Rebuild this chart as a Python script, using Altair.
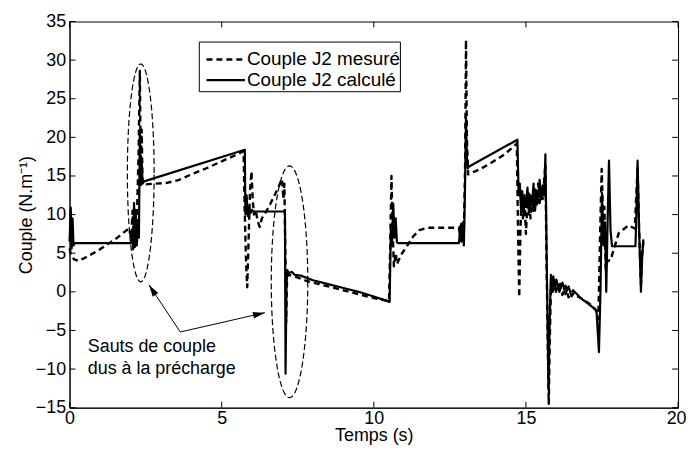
import altair as alt
import pandas as pd
import numpy as np

# ---------------- data ----------------
calc_t = [0.00, 0.04, 0.07, 0.10, 0.13, 0.17, 2.02, 2.06, 2.09, 2.12, 2.15, 2.18, 2.21, 2.25, 2.28,
          2.31, 2.34, 2.37, 2.40, 2.45, 5.76, 5.78, 5.82, 5.86, 5.90, 5.95, 6.00, 6.05, 7.05, 7.08,
          7.10, 7.13, 7.16, 7.20, 7.30, 7.40, 7.60, 8.00, 8.50, 9.00, 9.50, 10.00, 10.52, 10.56,
          10.60, 10.64, 10.68, 10.72, 10.76, 10.80, 12.80, 12.84, 12.88, 12.92, 12.96, 13.00,
          13.03, 13.06, 13.09, 13.12, 14.72, 14.76, 14.80, 14.84, 14.88, 14.92, 14.96, 15.00,
          15.05, 15.10, 15.15, 15.20, 15.25, 15.30, 15.35, 15.40, 15.45, 15.50, 15.55, 15.60,
          15.64, 15.68, 15.74, 15.78, 15.82, 15.86, 15.90, 15.95, 16.00, 16.10, 16.20, 16.30,
          16.40, 16.50, 16.60, 16.80, 17.00, 17.20, 17.32, 17.40, 17.45, 17.50, 17.55, 17.60,
          17.64, 17.69, 17.73, 17.78, 17.83, 18.60, 18.63, 18.67, 18.72, 18.78, 18.82, 18.86]
calc_v = [6.5, 10.9, 5.6, 9.5, 6.0, 6.3, 6.3, 8.0, 5.5, 11.5, 5.8, 10.0, 6.0, 9.0, 7.0,
          20.6, 13.8, 17.0, 14.0, 14.3, 18.4, 10.0, 12.5, 9.8, 11.0, 10.2, 10.6, 10.4, 10.4, 10.6,
          -10.6, 1.0, 2.8, 2.4, 2.6, 2.2, 2.1, 1.5, 1.0, 0.5, 0.0, -0.6, -1.3, 8.0,
          6.0, 11.4, 7.0, 9.5, 6.4, 6.3, 6.3, 8.5, 6.5, 9.0, 6.0, 14.0,
          22.5, 17.5, 16.0, 16.2, 19.7, 12.5, 14.0, 10.5, 13.0, 9.8, 12.2, 11.0,
          13.5, 10.0, 12.5, 11.2, 14.0, 10.5, 13.0, 11.5, 14.5, 12.0, 13.8, 12.5,
          17.8, 5.0, -12.6, -4.0, 2.2, 0.5, 2.0, 0.3, 1.6, 0.0, 1.2, -0.3,
          0.7, -0.6, 0.0, -0.8, -1.4, -2.0, -2.5, -7.8, 0.0, 12.8, 6.0, 9.0,
          0.0, 10.0, 17.0, 8.0, 5.9, 5.9, 10.0, 17.0, 8.0, 0.0, 4.5, 6.8]

mes_t = [0.00, 0.05, 0.15, 0.30, 0.60, 1.00, 1.50, 1.95, 2.03, 2.07, 2.11, 2.15, 2.19, 2.23, 2.27,
         2.31, 2.34, 2.37, 2.40, 2.45, 2.80, 3.20, 3.60, 4.00, 4.50, 5.00, 5.40, 5.72, 5.76, 5.80,
         5.84, 5.88, 5.93, 5.98, 6.02, 6.06, 6.12, 6.18, 6.25, 6.32, 6.40, 6.55, 6.70, 6.85, 6.98,
         7.03, 7.06, 7.10, 7.12, 7.15, 7.20, 7.40, 7.80, 8.20, 8.60, 9.00, 9.50, 10.00, 10.50,
         10.54, 10.58, 10.62, 10.66, 10.72, 10.76, 10.90, 11.10, 11.30, 11.50, 11.75, 12.80,
         12.84, 12.88, 12.92, 12.96, 13.00, 13.03, 13.06, 13.10, 13.15, 13.50, 13.90, 14.30,
         14.70, 14.74, 14.78, 14.82, 14.86, 14.90, 14.95, 15.00, 15.05, 15.10, 15.15, 15.20,
         15.25, 15.30, 15.35, 15.40, 15.45, 15.50, 15.55, 15.60, 15.64, 15.68, 15.75, 15.79,
         15.83, 15.88, 15.93, 16.00, 16.10, 16.20, 16.30, 16.40, 16.55, 16.70, 16.90, 17.10,
         17.30, 17.38, 17.44, 17.49, 17.54, 17.58, 17.62, 17.68, 17.78, 18.05, 18.37, 18.58,
         18.62, 18.67, 18.72, 18.78, 18.82, 18.86]
mes_v = [5.6, 4.8, 4.2, 4.0, 4.6, 5.5, 6.8, 8.2, 7.0, 10.5, 6.0, 11.0, 6.5, 12.0, 18.0,
         28.6, 16.0, 21.0, 14.0, 13.9, 14.0, 14.1, 14.5, 15.2, 16.0, 16.9, 17.6, 18.2, 10.0, 4.0,
         0.6, 6.0, 13.0, 15.6, 12.0, 10.0, 10.6, 9.2, 8.4, 9.5, 10.0, 11.0, 12.2, 13.4, 14.6,
         12.0, 14.0, 3.0, -4.0, 2.0, 2.2, 2.0, 1.4, 1.0, 0.6, 0.2, -0.3, -0.8, -1.2,
         6.0, 15.0, 8.0, 3.3, 5.0, 3.6, 4.8, 6.0, 7.2, 8.0, 8.3, 8.3,
         7.0, 9.0, 6.5, 8.0, 16.0, 32.6, 20.0, 15.2, 15.3, 15.9, 16.8, 17.8,
         19.2, 8.0, -0.7, 8.0, 13.0, 9.5, 12.5, 7.5, 11.5, 13.0, 9.5, 12.0,
         10.5, 13.5, 11.0, 14.0, 11.5, 13.2, 12.0, 14.5, 16.5, 3.0, -14.5, -5.0,
         1.8, 0.0, 1.5, -0.2, 1.3, -0.4, 0.8, -0.7, 0.2, -0.6, -1.0, -1.6,
         -2.3, -3.5, 8.0, 15.9, 9.0, 11.0, 3.0, 4.0, 4.1, 7.6, 8.6, 8.2,
         12.0, 16.0, 8.0, 1.0, 5.0, 6.5]

series_names = ["Couple J2 mesuré", "Couple J2 calculé"]

# annotation ellipses: centre (t, v) and radii (t, v)
ell_cx = [2.34, 7.23]
ell_cy = [15.4, 1.3]
ell_rx = [0.44, 0.60]
ell_ry = [14.1, 15.0]

# arrows: common start, two ends
arrow_t0, arrow_v0 = 3.64, -5.2
arrow_t1 = [2.61, 6.42]
arrow_v1 = [0.9, -2.7]

note_lines = ["Sauts de couple", "dus à la précharge"]
note_t = [0.6, 0.6]
note_v = [-7.8, -10.7]

x_ticks = [0, 5, 10, 15, 20]
y_ticks = [-15, -10, -5, 0, 5, 10, 15, 20, 25, 30, 35]
X_DOM = [0, 20]
Y_DOM = [-15, 35]

# ---------------- layout ----------------
W, H = 613, 389
FONT = "Liberation Sans"
FS = 18
FS_LEG = 19

xs = alt.Scale(domain=X_DOM, nice=False, zero=False)
ys = alt.Scale(domain=Y_DOM, nice=False, zero=False)

AX = alt.Axis(values=x_ticks, ticks=False, grid=False, labelFlush=False, format="d",
              labelFont=FONT, labelFontSize=FS, labelPadding=2, labelColor="black",
              labelOffset={"expr": "datum.value == 20 ? -2 : 0"},
              title="Temps (s)", titleFont=FONT, titleFontSize=FS, titleFontWeight="normal",
              titleColor="black", titleY=33, titleBaseline="alphabetic",
              domainColor="black", domainWidth=1)
AY = alt.Axis(values=y_ticks, ticks=False, grid=False, format="d",
              labelFont=FONT, labelFontSize=FS, labelPadding=4, labelColor="black",
              title="Couple (N.m⁻¹)", titleFont=FONT, titleFontSize=FS, titleFontWeight="normal",
              titleColor="black", titleX=-38, titleY=H / 2, titleAngle=270,
              titleAlign="center", titleBaseline="alphabetic",
              domainColor="black", domainWidth=1)


def X(field="t"):
    return alt.X(f"{field}:Q", scale=xs, axis=AX)


def Y(field="v"):
    return alt.Y(f"{field}:Q", scale=ys, axis=AY)


df_calc = pd.DataFrame({"t": calc_t, "v": calc_v, "i": range(len(calc_t))})
df_mes = pd.DataFrame({"t": mes_t, "v": mes_v, "i": range(len(mes_t))})

line_mes = alt.Chart(df_mes).mark_line(
    color="black", strokeWidth=2.4, strokeDash=[6, 4], strokeJoin="round"
).encode(x=X(), y=Y(), order="i:Q")

line_calc = alt.Chart(df_calc).mark_line(
    color="black", strokeWidth=2.2, strokeJoin="round"
).encode(x=X(), y=Y(), order="i:Q")

# ellipse outlines
theta = np.linspace(0, 2 * np.pi, 121)
ell_rows = []
for k in range(len(ell_cx)):
    for j, th in enumerate(theta):
        ell_rows.append({"e": k, "i": j,
                         "t": ell_cx[k] + ell_rx[k] * np.cos(th),
                         "v": ell_cy[k] + ell_ry[k] * np.sin(th)})
df_ell = pd.DataFrame(ell_rows)
ellipses = alt.Chart(df_ell).mark_line(
    color="black", strokeWidth=1.2, strokeDash=[6, 3]
).encode(x=X(), y=Y(), detail="e:N", order="i:Q")

# arrows
kx = W / (X_DOM[1] - X_DOM[0])
ky = H / (Y_DOM[1] - Y_DOM[0])
angles = []
for t1, v1 in zip(arrow_t1, arrow_v1):
    dx = (t1 - arrow_t0) * kx
    dy = -(v1 - arrow_v0) * ky
    angles.append(float(np.degrees(np.arctan2(dx, -dy)) % 360))
df_arr = pd.DataFrame({"t": [arrow_t0] * len(arrow_t1), "v": [arrow_v0] * len(arrow_t1),
                       "t2": arrow_t1, "v2": arrow_v1, "ang": angles})
arrow_lines = alt.Chart(df_arr).mark_rule(color="black", strokeWidth=1).encode(
    x=X(), y=Y(), x2="t2:Q", y2="v2:Q")
arrow_heads = alt.Chart(df_arr).mark_point(
    shape="M0,0L0.28,1L-0.28,1Z", filled=True, color="black", size=576, opacity=1
).encode(x=X("t2"), y=Y("v2"), angle=alt.Angle("ang:Q", scale=None))

df_note = pd.DataFrame({"t": note_t, "v": note_v, "txt": note_lines})
note = alt.Chart(df_note).mark_text(
    align="left", baseline="alphabetic", font=FONT, fontSize=FS, color="black"
).encode(x=X(), y=Y(), text="txt:N")

# inward ticks (MATLAB box style)
df_xt = pd.DataFrame({"t": x_ticks})
df_yt = pd.DataFrame({"v": y_ticks})
TL = 6
xt_bot = alt.Chart(df_xt).mark_rule(color="black", strokeWidth=1).encode(
    x=X(), y=alt.value(H), y2=alt.value(H - TL))
xt_top = alt.Chart(df_xt).mark_rule(color="black", strokeWidth=1).encode(
    x=X(), y=alt.value(0), y2=alt.value(TL))
yt_left = alt.Chart(df_yt).mark_rule(color="black", strokeWidth=1).encode(
    y=Y(), x=alt.value(0), x2=alt.value(TL))
yt_right = alt.Chart(df_yt).mark_rule(color="black", strokeWidth=1).encode(
    y=Y(), x=alt.value(W), x2=alt.value(W - TL))

# legend (box, samples, labels)
one = pd.DataFrame({"k": [0]})
LX0, LX1, LY0, LY1 = 130.7, 333.3, 20.7, 70.7
ROW_Y = [38.3, 59.0]
SAMP0, SAMP1 = 138.0, 176.7
leg_box = alt.Chart(one).mark_rect(fill="white", stroke="black", strokeWidth=1).encode(
    x=alt.value(LX0), x2=alt.value(LX1), y=alt.value(LY0), y2=alt.value(LY1))
leg_dash = alt.Chart(one).mark_rule(color="black", strokeWidth=2.4, strokeDash=[6, 4]).encode(
    x=alt.value(SAMP0), x2=alt.value(SAMP1), y=alt.value(ROW_Y[0]))
leg_solid = alt.Chart(one).mark_rule(color="black", strokeWidth=2.2).encode(
    x=alt.value(SAMP0), x2=alt.value(SAMP1), y=alt.value(ROW_Y[1]))
leg_t1 = alt.Chart(one).mark_text(align="left", baseline="middle", font=FONT, fontSize=FS_LEG,
                                  color="black", text=series_names[0]).encode(
    x=alt.value(SAMP1 + 2), y=alt.value(ROW_Y[0]))
leg_t2 = alt.Chart(one).mark_text(align="left", baseline="middle", font=FONT, fontSize=FS_LEG,
                                  color="black", text=series_names[1]).encode(
    x=alt.value(SAMP1 + 2), y=alt.value(ROW_Y[1]))

chart = alt.layer(
    ellipses, arrow_lines, arrow_heads, line_mes, line_calc, note,
    xt_bot, xt_top, yt_left, yt_right,
    leg_box, leg_dash, leg_solid, leg_t1, leg_t2
).properties(
    width=W, height=H,
    padding={"left": 62, "top": 12, "right": 8, "bottom": 39},
    autosize=alt.AutoSizeParams(type="none"),
    background="white",
).configure_view(stroke="black", strokeWidth=1)

chart.save("out.html", embed_options={"renderer": "svg", "actions": False})
